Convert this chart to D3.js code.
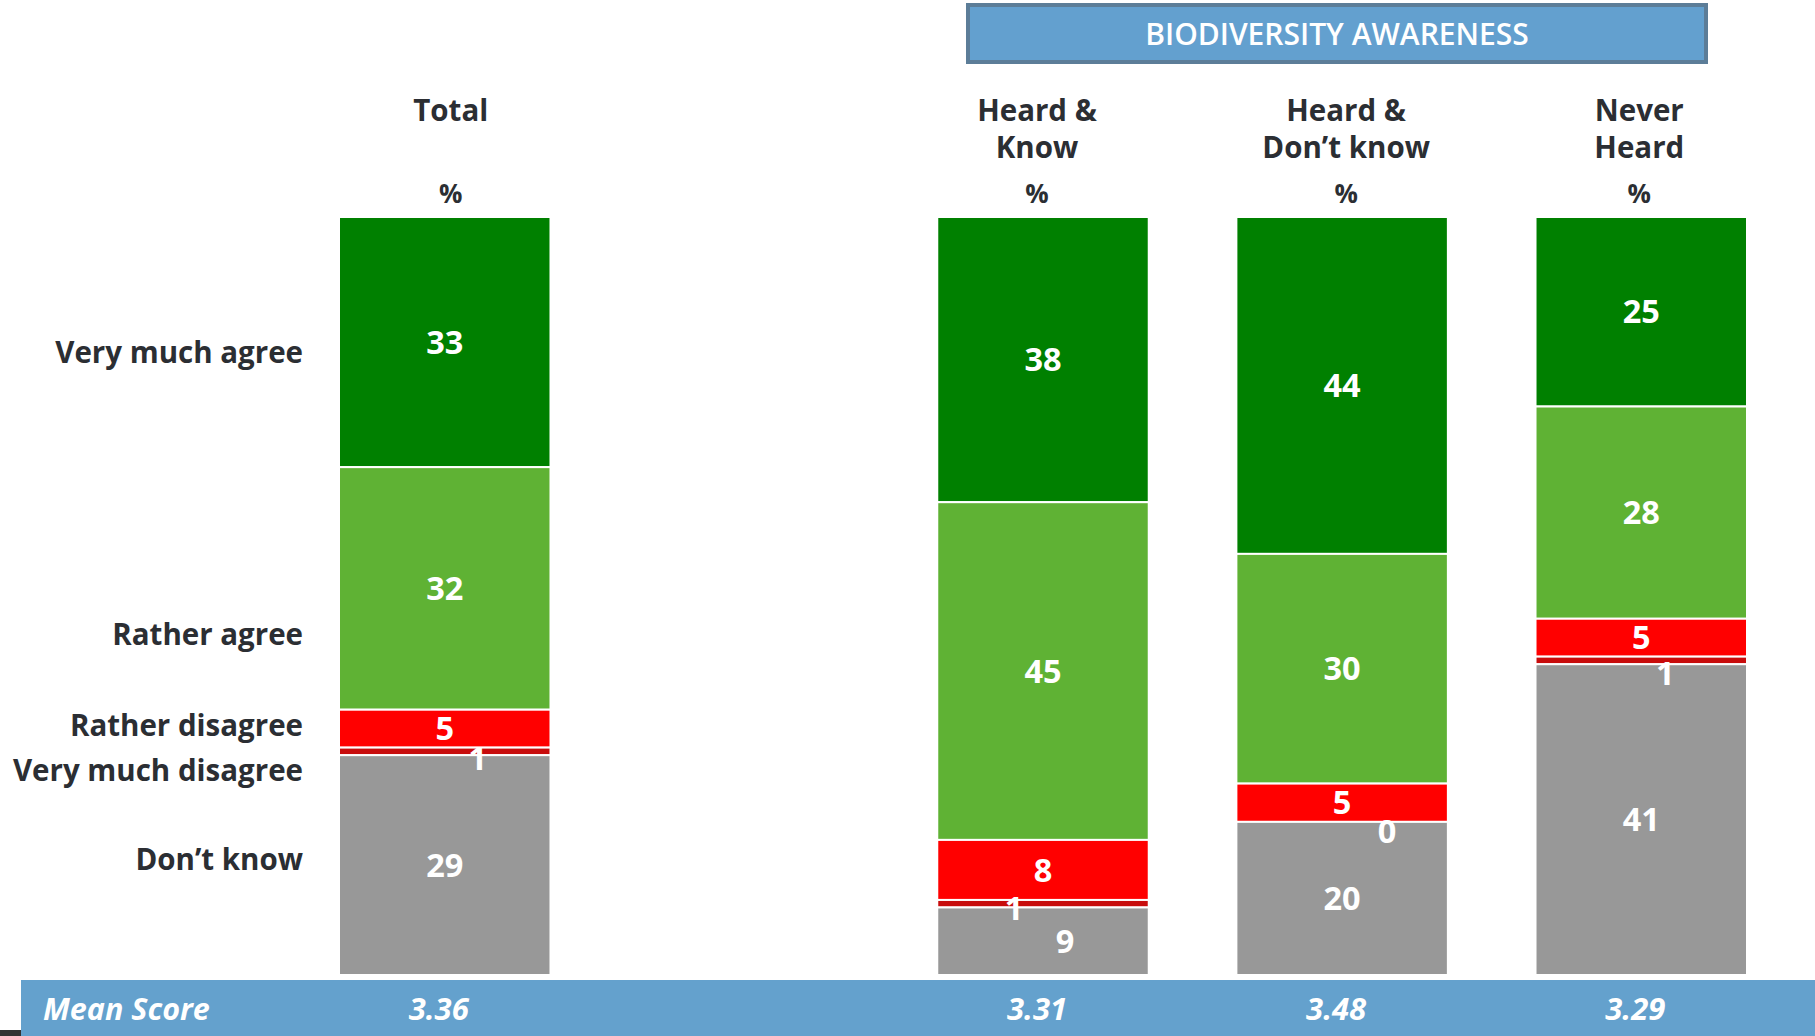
<!DOCTYPE html>
<html>
<head>
<meta charset="utf-8">
<script src="https://cdn.jsdelivr.net/npm/d3@7/dist/d3.min.js"></script>
<style>
  body { margin: 0; background: #fff; }
  svg text { font-family: "Open Sans", Lato, sans-serif; }
</style>
</head>
<body>
<svg id="chart" width="1815" height="1036"></svg>
<script>
// answer categories, top to bottom in each bar
var answers = ["Very much agree", "Rather agree", "Rather disagree", "Very much disagree", "Don\u2019t know"];
var colors  = ["#008000", "#5fb234", "#ff0000", "#c80c0c", "#989898"];

// columns ("" is the empty slot between Total and the awareness groups)
var columns = ["Total", "", "Heard & Know", "Heard & Don\u2019t know", "Never Heard"];
var headerLines = {
  "Total": ["Total"],
  "Heard & Know": ["Heard &", "Know"],
  "Heard & Don\u2019t know": ["Heard &", "Don\u2019t know"],
  "Never Heard": ["Never", "Heard"]
};

// percentages per column, in the order of answers
var totalValues      = [33, 32, 5, 1, 29];
var heardKnowValues  = [38, 45, 8, 1, 9];
var heardDontValues  = [44, 30, 5, 0, 20];
var neverHeardValues = [25, 28, 5, 1, 41];

var meanScores = [3.36, 3.31, 3.48, 3.29];

var series = [
  {col: "Total",               values: totalValues,      mean: meanScores[0]},
  {col: "Heard & Know",        values: heardKnowValues,  mean: meanScores[1]},
  {col: "Heard & Don\u2019t know", values: heardDontValues, mean: meanScores[2]},
  {col: "Never Heard",         values: neverHeardValues, mean: meanScores[3]}
];

// nudges for the tiny segments' labels (label sits off the thin slice)
var nudges = {
  "Total":               {3: [33, 7]},
  "Heard & Know":        {3: [-29, 5], 4: [22, 0]},
  "Heard & Don\u2019t know": {3: [45, 9]},
  "Never Heard":         {3: [24, 13]}
};

var svg = d3.select("#chart");
var W = 1815, H = 1036;
var barTop = 217, barBottom = 975;

var x = d3.scaleBand()
    .domain(columns)
    .range([339, 1747])
    .paddingInner(0.293)
    .paddingOuter(0);

var textColor = "#2b2e33";

// header box
var hx0 = 968, hx1 = 1706;
svg.append("rect")
    .attr("x", hx0).attr("y", 5)
    .attr("width", hx1 - hx0).attr("height", 57)
    .attr("fill", "#63a0cf")
    .attr("stroke", "#5c7d98")
    .attr("stroke-width", 4);
svg.append("text")
    .attr("x", (hx0 + hx1) / 2).attr("y", 45)
    .attr("text-anchor", "middle")
    .attr("fill", "#fff")
    .attr("font-family", "Lato")
    .attr("font-size", 30)
    .attr("font-weight", 600)
    .text("BIODIVERSITY AWARENESS");

// column headers
var headerShift = {"Total": 6, "Heard & Know": -6, "Heard & Don\u2019t know": 4, "Never Heard": -2};
series.forEach(function(s) {
  var cx = x(s.col) + x.bandwidth() / 2 + headerShift[s.col];
  var lines = headerLines[s.col];
  lines.forEach(function(l, i) {
    svg.append("text")
        .attr("x", cx).attr("y", 121 + i * 37)
        .attr("text-anchor", "middle")
        .attr("fill", textColor)
        .attr("font-size", 29.5)
        .attr("font-weight", 700)
        .text(l);
  });
  svg.append("text")
      .attr("x", cx).attr("y", 203)
      .attr("text-anchor", "middle")
      .attr("fill", textColor)
      .attr("font-size", 26)
      .attr("font-weight", 700)
      .text("%");
});

// stacked bars, each scaled to its own total so all bars fill the full height
series.forEach(function(s) {
  var sum = d3.sum(s.values);
  var y = d3.scaleLinear().domain([0, sum]).range([barTop, barBottom]);
  var cum = 0;
  var segs = s.values.map(function(v, i) {
    var d = {i: i, v: v, y0: cum, y1: cum + v};
    cum += v;
    return d;
  });

  var g = svg.append("g");
  g.selectAll("rect")
    .data(segs.filter(function(d) { return d.v > 0; }))
    .enter().append("rect")
      .attr("x", x(s.col))
      .attr("y", function(d) { return y(d.y0); })
      .attr("width", x.bandwidth())
      .attr("height", function(d) { return y(d.y1) - y(d.y0); })
      .attr("fill", function(d) { return colors[d.i]; })
      .attr("stroke", "#fff")
      .attr("stroke-width", 2);

  g.selectAll("text")
    .data(segs)
    .enter().append("text")
      .attr("x", function(d) {
        var n = (nudges[s.col] || {})[d.i];
        return x(s.col) + x.bandwidth() / 2 + (n ? n[0] : 0);
      })
      .attr("y", function(d) {
        var n = (nudges[s.col] || {})[d.i];
        return (y(d.y0) + y(d.y1)) / 2 + (n ? n[1] : 0);
      })
      .attr("dy", "0.36em")
      .attr("text-anchor", "middle")
      .attr("fill", "#fff")
      .attr("font-size", 32.5)
      .attr("font-weight", 700)
      .text(function(d) { return d.v; });
});

// answer labels on the left
var labelY = [352, 634, 725, 770, 859];
svg.append("g").selectAll("text")
  .data(answers)
  .enter().append("text")
    .attr("x", 303)
    .attr("y", function(d, i) { return labelY[i]; })
    .attr("dy", "0.36em")
    .attr("text-anchor", "end")
    .attr("fill", textColor)
    .attr("font-size", 29.5)
    .attr("font-weight", 700)
    .text(function(d) { return d; });

// mean score band
svg.append("rect")
    .attr("x", 0).attr("y", 1030).attr("width", 22).attr("height", 6)
    .attr("fill", "#333");
svg.append("rect")
    .attr("x", 21).attr("y", 980)
    .attr("width", W - 21).attr("height", H - 980)
    .attr("fill", "#64a1cd");
svg.append("text")
    .attr("x", 43).attr("y", 1020)
    .attr("fill", "#fff")
    .attr("font-size", 30.5)
    .attr("font-weight", 700)
    .attr("font-style", "italic")
    .text("Mean Score");
svg.selectAll(".mean")
  .data(series)
  .enter().append("text")
    .attr("class", "mean")
    .attr("x", function(d) { return x(d.col) + x.bandwidth() / 2 - 6; })
    .attr("y", 1020)
    .attr("text-anchor", "middle")
    .attr("fill", "#fff")
    .attr("font-size", 31)
    .attr("font-weight", 700)
    .attr("font-style", "italic")
    .text(function(d) { return d3.format(".2f")(d.mean); });
</script>
</body>
</html>
